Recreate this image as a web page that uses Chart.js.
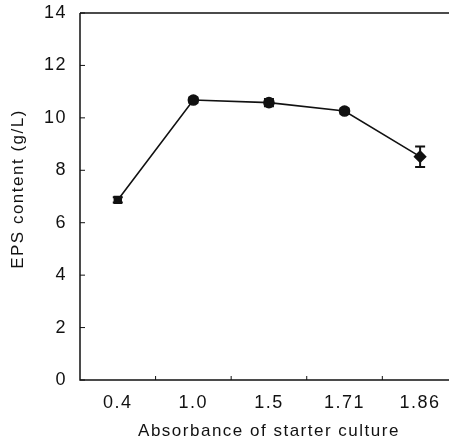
<!DOCTYPE html>
<html>
<head>
<meta charset="utf-8">
<script src="https://cdn.jsdelivr.net/npm/chart.js@4.4.1/dist/chart.umd.min.js"></script>
<style>
  html, body { margin: 0; padding: 0; background: #fff; overflow: hidden; }
  canvas { display: block; }
</style>
</head>
<body>
<canvas id="myChart" width="465" height="445"></canvas>
<script>
// data
var absorbance = ["0.4", "1.0", "1.5", "1.71", "1.86"];
var epsContent = [6.87, 10.68, 10.58, 10.26, 8.52];
var epsError = [0.1, 0.1, 0.14, 0.1, 0.39];
var yTicks = [0, 2, 4, 6, 8, 10, 12, 14];
var yTitle = "EPS content (g/L)";

var ink = "#111";

// the scanned figure uses widely spaced lettering
var spacingPlugin = {
  id: "spacing",
  beforeDraw: function(chart) {
    chart.ctx.letterSpacing = "1.5px";
  }
};

// error bars + inward ticks + frame lines + y title
var framePlugin = {
  id: "frame",
  afterDatasetsDraw: function(chart) {
    var ctx = chart.ctx;
    var area = chart.chartArea;
    var xs = chart.scales.x, ys = chart.scales.y;
    var rightEnd = 449;
    ctx.save();
    ctx.strokeStyle = ink;
    ctx.lineWidth = 1.5;
    ctx.beginPath();
    ctx.moveTo(area.left, area.top);
    ctx.lineTo(rightEnd, area.top);
    ctx.moveTo(area.left, area.top);
    ctx.lineTo(area.left, area.bottom);
    ctx.lineTo(rightEnd, area.bottom);
    ctx.stroke();

    // inward ticks
    ctx.lineWidth = 1;
    ctx.beginPath();
    yTicks.forEach(function(v) {
      var y = ys.getPixelForValue(v);
      ctx.moveTo(area.left, y);
      ctx.lineTo(area.left + 5, y);
    });
    for (var i = 0; i < absorbance.length - 1; i++) {
      var x = (xs.getPixelForValue(i) + xs.getPixelForValue(i + 1)) / 2;
      ctx.moveTo(x, area.bottom);
      ctx.lineTo(x, area.bottom - 4);
    }
    ctx.stroke();

    // error bars
    ctx.lineWidth = 2;
    ctx.beginPath();
    epsContent.forEach(function(v, i) {
      var x = xs.getPixelForValue(i);
      var yTop = ys.getPixelForValue(v + epsError[i]);
      var yBot = ys.getPixelForValue(v - epsError[i]);
      ctx.moveTo(x, yTop);
      ctx.lineTo(x, yBot);
      ctx.moveTo(x - 5, yTop);
      ctx.lineTo(x + 5, yTop);
      ctx.moveTo(x - 5, yBot);
      ctx.lineTo(x + 5, yBot);
    });
    ctx.stroke();

    // y title, sits a little above the middle of the axis in the original
    ctx.translate(18, 189);
    ctx.rotate(-Math.PI / 2);
    ctx.fillStyle = ink;
    ctx.font = "17px 'Liberation Sans'";
    ctx.textAlign = "center";
    ctx.textBaseline = "middle";
    ctx.fillText(yTitle, 0, 0);
    ctx.restore();
  }
};

var ctx = document.getElementById("myChart").getContext("2d");
var chart = new Chart(ctx, {
  type: "line",
  data: {
    labels: absorbance,
    datasets: [{
      data: epsContent,
      borderColor: ink,
      borderWidth: 1.6,
      backgroundColor: ink,
      pointBackgroundColor: ink,
      pointBorderColor: ink,
      pointStyle: ["rect", "circle", "circle", "circle", "rectRot"],
      pointRadius: [4.8, 5, 5, 5, 5.5],
      tension: 0,
      fill: false
    }]
  },
  options: {
    responsive: false,
    animation: false,
    events: [],
    layout: { padding: { left: 0, right: 0, top: 13, bottom: 0 } },
    plugins: {
      legend: { display: false },
      tooltip: { enabled: false }
    },
    scales: {
      x: {
        type: "category",
        offset: true,
        grid: { display: false, drawTicks: false },
        border: { display: false },
        ticks: {
          color: ink,
          padding: 12,
          font: { family: "Liberation Sans", size: 18 }
        },
        title: {
          display: true,
          text: "Absorbance of starter culture",
          color: ink,
          padding: { top: 0, bottom: 3 },
          font: { family: "Liberation Sans", size: 17 }
        },
        afterFit: function(s) {
          s.height = 65;
          s.paddingLeft = 0;
          s.paddingRight = 0;
        }
      },
      y: {
        min: 0,
        max: 14,
        afterBuildTicks: function(s) {
          s.ticks = yTicks.map(function(v) { return { value: v }; });
        },
        grid: { display: false, drawTicks: false },
        border: { display: false },
        ticks: {
          color: ink,
          padding: 13,
          font: { family: "Liberation Sans", size: 18 }
        },
        afterFit: function(s) {
          s.width = 80;
          s.paddingTop = 0;
          s.paddingBottom = 0;
        }
      }
    }
  },
  plugins: [spacingPlugin, framePlugin]
});
</script>
</body>
</html>
